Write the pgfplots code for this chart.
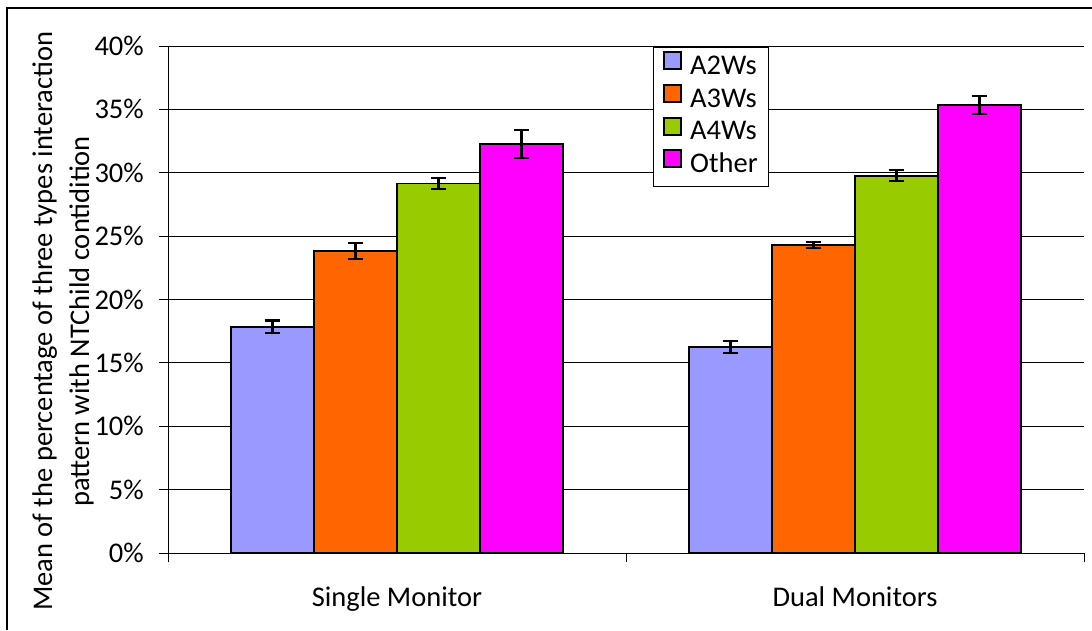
\documentclass[border=0pt]{standalone}
\usepackage{fontspec}
\setmainfont{Carlito}
\usepackage{pgfplots}
\pgfplotsset{compat=1.18}

\definecolor{ctwo}{HTML}{9999FF}
\definecolor{cthree}{HTML}{FF6600}
\definecolor{cfour}{HTML}{99CC00}
\definecolor{cother}{HTML}{FF00FF}

\newcommand{\chartfont}{\fontsize{28.5}{37}\selectfont}

\pgfplotsset{
  errbar/.style={
    draw=black, line width=1.8pt,
    error bars/y dir=both, error bars/y explicit,
    error bars/error bar style={line width=2.2pt, black},
    error bars/error mark options={line width=2.2pt, black, mark size=7.8pt, rotate=90},
  },
}

\begin{document}
\chartfont
\begin{tikzpicture}
  \path[use as bounding box] (0,0) rectangle (1092pt,630pt);
  \draw[line width=1.2pt] (7pt,0pt) -- (7pt,622pt) -- (1092pt,622pt);
  \begin{axis}[
      at={(168pt,77pt)}, anchor=south west,
      scale only axis, width=916pt, height=507pt,
      tick label style={font=\chartfont},
      label style={font=\chartfont},
      ybar=0pt, bar width=83pt,
      xmin=0.5, xmax=2.5,
      xtick={0.5,1.5,2.5},
      x tick label as interval,
      xticklabels={Single Monitor, Dual Monitors},
      xticklabel style={yshift=-15pt},
      ymin=0, ymax=40,
      ytick={0,5,...,40},
      yticklabel={\pgfmathprintnumber{\tick}\%},
      yticklabel style={xshift=-5.5pt},
      /pgf/number format/assume math mode=true,
      axis lines*=left,
      axis line style={line width=0.8pt},
      ymajorgrids,
      grid style={black, line width=0.8pt},
      tick align=outside,
      major tick length=9pt,
      tick style={black, line width=0.8pt},
      ylabel={Mean of the percentage of three types interaction\\pattern with NTChild contidition},
      ylabel style={align=center, anchor=center, at={(axis description cs:-0.1146,0.457)}},
      legend style={at={(rel axis cs:0.5295,0.998)}, anchor=north west,
        draw=black, line width=0.8pt, row sep=0pt, column sep=7pt,
        inner xsep=10pt, inner ysep=4pt,
        nodes={inner sep=1pt, text height=21pt, text depth=8.5pt},
        font=\chartfont},
      legend cell align=left,
      legend image code/.code={%
        \draw[#1, line width=1.8pt] (0pt,-1pt) rectangle (17pt,16pt);
      },
    ]
    \addplot[errbar, fill=ctwo] coordinates {(1,17.85) +- (0,0.5) (2,16.27) +- (0,0.47)};
    \addplot[errbar, fill=cthree] coordinates {(1,23.84) +- (0,0.64) (2,24.29) +- (0,0.24)};
    \addplot[errbar, fill=cfour] coordinates {(1,29.15) +- (0,0.41) (2,29.76) +- (0,0.43)};
    \addplot[errbar, fill=cother] coordinates {(1,32.26) +- (0,1.12) (2,35.33) +- (0,0.72)};
    \legend{A2Ws,A3Ws,A4Ws,Other}
  \end{axis}
\end{tikzpicture}
\end{document}
